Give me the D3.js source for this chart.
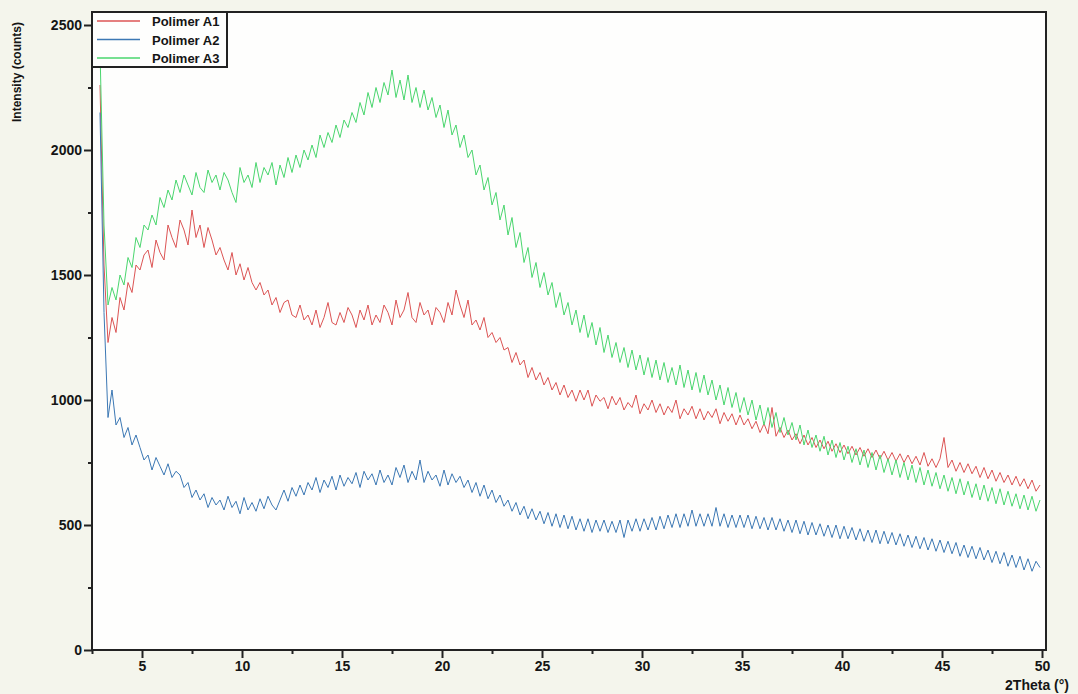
<!DOCTYPE html>
<html>
<head>
    <meta charset="utf-8">
    <title>XRD Polimer A1-A3</title>
    <script src="https://d3js.org/d3.v7.min.js"></script>
    <style>
        body { margin: 0; background: #f4f5ec; }
        svg { display: block; }
        .tick-label { font-family: "Liberation Sans", Arial, sans-serif; font-size: 14px; font-weight: bold; fill: #151515; }
        .legend-label { font-family: "Liberation Sans", Arial, sans-serif; font-size: 13px; font-weight: bold; fill: #151515; }
        .trace { fill: none; stroke-width: 1; stroke-linejoin: round; }
    </style>
</head>
<body>
<div id="chart"></div>
<script>
    // scan grid: 2.9 .. 49.9 deg, step 0.2
    const thetaStart = 2.9;
    const thetaStep = 0.2;

    const polimerA1 = [
        2260, 1540, 1230, 1330, 1270, 1410, 1360, 1470, 1430, 1540,
        1520, 1580, 1600, 1530, 1640, 1590, 1560, 1700, 1650, 1610,
        1720, 1680, 1620, 1760, 1650, 1700, 1610, 1690, 1640, 1580,
        1610, 1560, 1520, 1590, 1500, 1545, 1480, 1530, 1470, 1440,
        1470, 1420, 1440, 1380, 1410, 1350, 1390, 1400, 1340, 1330,
        1380, 1320, 1340, 1300, 1360, 1290, 1330, 1390, 1310, 1300,
        1350, 1310, 1370, 1340, 1290, 1360, 1320, 1380, 1300, 1340,
        1310, 1380, 1350, 1300, 1400, 1330, 1360, 1430, 1330, 1310,
        1390, 1340, 1360, 1300, 1370, 1350, 1310, 1390, 1340, 1440,
        1380, 1330, 1400, 1300, 1320, 1280, 1330, 1250, 1270, 1230,
        1250, 1200, 1210, 1150, 1190, 1140, 1160, 1090, 1130, 1080,
        1110, 1060, 1090, 1040, 1070, 1020, 1060, 1010, 1040, 995,
        1040, 1000, 1040, 975, 1020, 995, 1010, 965, 1015, 980,
        1010, 960, 990, 970, 1020, 945, 985, 960, 1000, 950,
        985, 940, 975, 950, 1000, 925, 965, 940, 975, 925,
        965, 920, 955, 930, 965, 905, 950, 915, 945, 900,
        940, 900, 925, 885, 915, 870, 905, 865, 970, 855,
        890, 850, 880, 840, 865, 825, 860, 820, 850, 810,
        840, 805, 835, 795, 825, 790, 820, 785, 815, 780,
        810, 775, 805, 770, 800, 765, 795, 760, 790, 755,
        785, 750, 780, 745, 775, 740, 790, 735, 765, 730,
        765, 850, 730, 760, 715, 750, 710, 745, 705, 735,
        690, 730, 685, 720, 675, 710, 670, 700, 660, 695,
        655, 685, 645, 680, 635, 660
    ];

    const polimerA2 = [
        2150, 1350, 930, 1040, 900, 930, 850, 890, 820, 860,
        810, 760, 780, 720, 770, 735, 700, 745, 690, 715,
        700, 650, 670, 610, 640, 600, 625, 570, 610, 580,
        600, 560, 615, 570, 595, 545, 610, 560, 590, 555,
        605, 565, 615, 580, 560, 600, 640, 595, 650, 615,
        660, 620, 670, 640, 690, 630, 680, 650, 695, 640,
        700, 655, 690, 665, 710, 650, 715, 680, 705, 660,
        720, 670, 700, 660, 730, 690, 740, 670, 715, 680,
        760, 670, 715, 680, 700, 655, 720, 660, 705, 670,
        695, 650, 680, 630, 670, 615, 660, 605, 640, 590,
        620, 575, 600, 555, 590, 540, 575, 525, 565, 520,
        555, 505, 550, 495, 545, 490, 540, 485, 535, 480,
        525, 475, 525, 470, 520, 475, 520, 470, 515, 470,
        520, 450, 520, 475, 525, 475, 525, 480, 530, 480,
        535, 485, 540, 490, 545, 490, 545, 495, 560, 495,
        545, 495, 545, 495, 570, 495, 545, 490, 540, 490,
        540, 490, 540, 485, 535, 485, 530, 480, 530, 480,
        525, 475, 520, 470, 520, 465, 515, 460, 510, 460,
        505, 455, 500, 450, 500, 445, 495, 445, 490, 440,
        485, 435, 480, 430, 480, 425, 475, 425, 470, 420,
        465, 415, 460, 410, 455, 405, 450, 400, 445, 395,
        440, 390, 435, 385, 430, 375, 420, 370, 415, 365,
        410, 360, 400, 350, 395, 345, 390, 335, 380, 330,
        375, 320, 365, 315, 355, 330
    ];

    const polimerA3 = [
        2400, 1700, 1380, 1450, 1400, 1500, 1460, 1570, 1530, 1650,
        1610, 1700, 1680, 1740, 1700, 1810, 1770, 1840, 1800, 1880,
        1830, 1900, 1860, 1820, 1910, 1850, 1830, 1920, 1870, 1900,
        1840, 1910, 1880, 1830, 1790, 1930, 1870, 1900, 1850, 1950,
        1870, 1930, 1900, 1950, 1860, 1940, 1890, 1970, 1910, 1980,
        1930, 2000, 1960, 2020, 1970, 2060, 2010, 2070, 2030, 2100,
        2050, 2120, 2090, 2150, 2110, 2190, 2140, 2230, 2170, 2250,
        2190, 2270, 2220, 2320, 2210, 2280, 2200, 2300, 2190, 2250,
        2170, 2240, 2160, 2210, 2130, 2180, 2090, 2160, 2060, 2100,
        2010, 2060, 1970, 2000, 1900, 1940, 1840, 1890, 1780, 1830,
        1720, 1780, 1660, 1730, 1610, 1670, 1550, 1610, 1490, 1550,
        1450, 1510, 1420, 1470, 1370, 1430, 1340, 1390, 1300, 1360,
        1270, 1340, 1250, 1310, 1220, 1290, 1190, 1260, 1170, 1230,
        1150, 1210, 1130, 1200, 1120, 1180, 1100, 1170, 1090, 1160,
        1080, 1150, 1070, 1130, 1060, 1140, 1050, 1120, 1040, 1110,
        1030, 1100, 1020, 1080, 1000, 1060, 980, 1050, 970, 1030,
        950, 1010, 940, 1000, 920, 980, 900, 970, 890, 950,
        870, 930, 860, 910, 840, 900, 820, 880, 810, 860,
        795, 855, 780, 840, 770, 830, 760, 815, 750, 805,
        740, 800, 730, 790, 720, 780, 710, 765, 700, 760,
        690, 750, 680, 740, 670, 730, 660, 720, 655, 710,
        645, 700, 635, 690, 625, 685, 620, 675, 610, 665,
        600, 660, 595, 650, 585, 645, 580, 635, 575, 625,
        565, 620, 560, 615, 555, 600
    ];

    const seriesNames = ['Polimer A1', 'Polimer A2', 'Polimer A3'];
    const seriesValues = [polimerA1, polimerA2, polimerA3];
    const seriesColors = ['#dc5454', '#3c78b4', '#4ad66e'];

    const xTicksMajor = [5, 10, 15, 20, 25, 30, 35, 40, 45, 50];
    const yTicksMajor = [0, 500, 1000, 1500, 2000, 2500];

    const width = 1078;
    const height = 694;
    const plot = { left: 92, right: 1046, top: 12, bottom: 650 };

    const x = d3.scaleLinear().domain([2.5, 50.2]).range([plot.left, plot.right]);
    const y = d3.scaleLinear().domain([0, 2552]).range([plot.bottom, plot.top]);

    const svg = d3.select('#chart')
        .append('svg')
        .attr('width', width)
        .attr('height', height);

    svg.append('rect')
        .attr('x', plot.left).attr('y', plot.top)
        .attr('width', plot.right - plot.left)
        .attr('height', plot.bottom - plot.top)
        .attr('fill', '#fefefd');

    svg.append('clipPath').attr('id', 'plot-clip')
        .append('rect')
        .attr('x', plot.left).attr('y', plot.top)
        .attr('width', plot.right - plot.left)
        .attr('height', plot.bottom - plot.top);

    const line = d3.line()
        .x((d, i) => x(thetaStart + i * thetaStep))
        .y(d => y(d));

    const traces = svg.append('g').attr('clip-path', 'url(#plot-clip)');
    seriesValues.forEach((vals, k) => {
        traces.append('path')
            .datum(vals)
            .attr('class', 'trace')
            .attr('stroke', seriesColors[k])
            .attr('d', line);
    });

    // axes: major ticks long, minor ticks short, pointing outward
    const xAxis = d3.axisBottom(x).tickValues(xTicksMajor).tickSize(8).tickSizeOuter(0).tickPadding(3);
    const xMinor = d3.axisBottom(x).tickValues(xTicksMajor.map(v => v - 2.5)).tickSize(4).tickFormat('');
    const yAxis = d3.axisLeft(y).tickValues(yTicksMajor).tickSize(8).tickSizeOuter(0).tickPadding(2)
        .tickFormat(d3.format('d'));
    const yMinor = d3.axisLeft(y).tickValues(yTicksMajor.map(v => v + 250)).tickSize(4).tickFormat('');

    [xAxis, xMinor].forEach(ax => {
        const g = svg.append('g').attr('transform', `translate(0,${plot.bottom})`).call(ax);
        g.select('.domain').remove();
        g.selectAll('line').attr('stroke', '#222').attr('stroke-width', 2);
        g.selectAll('text').attr('class', 'tick-label');
    });
    [yAxis, yMinor].forEach(ax => {
        const g = svg.append('g').attr('transform', `translate(${plot.left},0)`).call(ax);
        g.select('.domain').remove();
        g.selectAll('line').attr('stroke', '#222').attr('stroke-width', 2);
        g.selectAll('text').attr('class', 'tick-label');
    });

    // frame
    svg.append('rect')
        .attr('x', plot.left).attr('y', plot.top)
        .attr('width', plot.right - plot.left)
        .attr('height', plot.bottom - plot.top)
        .attr('fill', 'none')
        .attr('stroke', '#222')
        .attr('stroke-width', 2);

    svg.append('text')
        .attr('class', 'tick-label')
        .attr('x', 1069).attr('y', 690)
        .attr('text-anchor', 'end')
        .text('2Theta (°)');

    svg.append('text')
        .attr('class', 'tick-label')
        .style('font-size', '12px')
        .attr('transform', 'translate(21,72) rotate(-90)')
        .attr('text-anchor', 'middle')
        .text('Intensity (counts)');

    // legend
    const legend = svg.append('g');
    legend.append('rect')
        .attr('x', plot.left).attr('y', plot.top)
        .attr('width', 135).attr('height', 55)
        .attr('fill', '#fefefd')
        .attr('stroke', '#222')
        .attr('stroke-width', 2);
    seriesNames.forEach((name, k) => {
        const ly = 21 + k * 18.5;
        legend.append('line')
            .attr('x1', 97).attr('x2', 140)
            .attr('y1', ly).attr('y2', ly)
            .attr('stroke', seriesColors[k])
            .attr('stroke-width', 1.5);
        legend.append('text')
            .attr('class', 'legend-label')
            .attr('x', 152).attr('y', ly + 5)
            .text(name);
    });
</script>
</body>
</html>
